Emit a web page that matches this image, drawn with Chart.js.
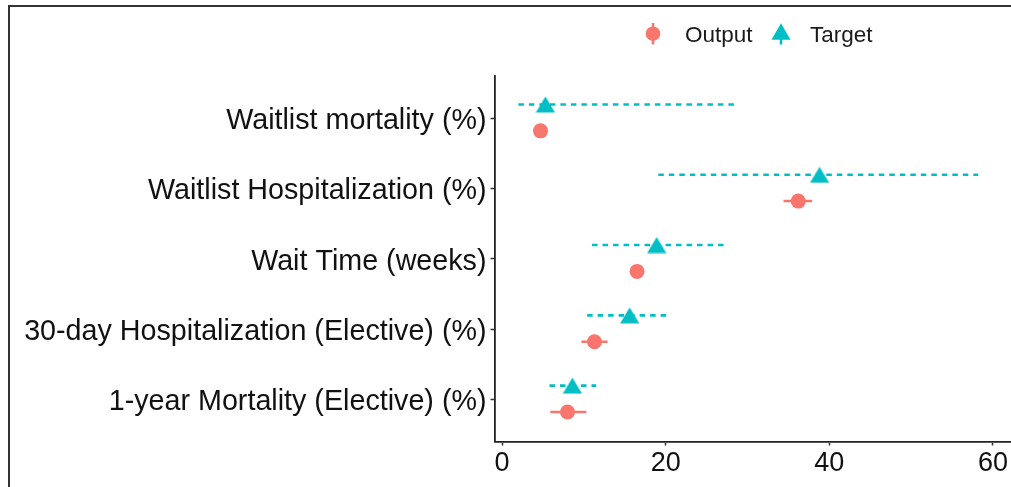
<!DOCTYPE html>
<html>
<head>
<meta charset="utf-8">
<script src="https://cdn.jsdelivr.net/npm/chart.js@4.4.1/dist/chart.umd.min.js"></script>
<style>
  html, body { margin: 0; padding: 0; background: #fff; overflow: hidden; }
  #wrap { position: relative; width: 1011px; height: 487px; overflow: hidden; background: #fff; }
  canvas { display: block; }
  .leg { position: absolute; font-family: "Liberation Sans", Arial, sans-serif; font-size: 22.5px;
         color: #1a1a1a; line-height: 1; white-space: nowrap; }
</style>
</head>
<body>
<div id="wrap">
  <canvas id="c" width="1011" height="487"></canvas>
  <svg style="position:absolute;left:0;top:0" width="1011" height="60">
    <line x1="653" y1="23" x2="653" y2="44.5" stroke="#F8766D" stroke-width="2.5"/>
    <circle cx="653" cy="33.7" r="7.3" fill="#F8766D"/>
    <line x1="781" y1="32" x2="781" y2="44.5" stroke="#00BFC4" stroke-width="2.5"/>
    <polygon points="781,23.3 771.5,39.8 790.5,39.8" fill="#00BFC4"/>
  </svg>
  <div class="leg" style="left:685px;top:24px">Output</div>
  <div class="leg" style="left:810px;top:24px">Target</div>
</div>
<script>
// ---- data ----
const categories = [
  "Waitlist mortality (%)",
  "Waitlist Hospitalization (%)",
  "Wait Time (weeks)",
  "30-day Hospitalization (Elective) (%)",
  "1-year Mortality (Elective) (%)"
];
const outputValues = [4.7, 36.2, 16.5, 11.3, 8.0];
const outputLow    = [4.3, 34.4, 16.1, 9.7, 5.9];
const outputHigh   = [5.1, 37.9, 16.9, 12.9, 10.3];
const targetValues = [5.3, 38.8, 18.9, 15.6, 8.6];
const targetLow    = [2.0, 19.1, 11.0, 10.4, 5.8];
const targetHigh   = [28.9, 58.2, 27.5, 20.4, 11.5];
const xTicks = [0, 20, 40, 60];

// ---- styling ----
const OUT_COLOR = "#F8766D";
const TGT_COLOR = "#00BFC4";
const OUT_DODGE = 0.18;
const TGT_DODGE = -0.195;
const FONT = '"Liberation Sans", Arial, sans-serif';

// triangle marker centred on its bounding box
const tri = document.createElement('canvas');
tri.width = 20; tri.height = 17;
(function () {
  const t = tri.getContext('2d');
  t.fillStyle = TGT_COLOR;
  t.beginPath();
  t.moveTo(10, 0.5); t.lineTo(19.6, 16.6); t.lineTo(0.4, 16.6); t.closePath();
  t.fill();
})();

const errorBars = {
  id: 'errorBars',
  beforeDatasetsDraw(chart) {
    const { ctx, chartArea, scales: { x, y } } = chart;
    ctx.save();
    ctx.beginPath();
    ctx.rect(chartArea.left, chartArea.top, chartArea.right - chartArea.left, chartArea.bottom - chartArea.top);
    ctx.clip();
    ctx.lineCap = 'butt';
    ctx.strokeStyle = OUT_COLOR; ctx.lineWidth = 2.5; ctx.setLineDash([]);
    categories.forEach((c, i) => {
      const py = y.getPixelForValue(i + OUT_DODGE);
      ctx.beginPath();
      ctx.moveTo(x.getPixelForValue(outputLow[i]), py);
      ctx.lineTo(x.getPixelForValue(outputHigh[i]), py);
      ctx.stroke();
    });
    ctx.strokeStyle = TGT_COLOR; ctx.lineWidth = 2.6; ctx.setLineDash([5.5, 5]);
    categories.forEach((c, i) => {
      const py = y.getPixelForValue(i + TGT_DODGE);
      ctx.beginPath();
      ctx.moveTo(x.getPixelForValue(targetLow[i]), py);
      ctx.lineTo(x.getPixelForValue(targetHigh[i]), py);
      ctx.stroke();
    });
    ctx.restore();
  }
};

const frame = {
  id: 'frame',
  afterDraw(chart) {
    const ctx = chart.ctx;
    ctx.save();
    ctx.strokeStyle = '#333';
    ctx.lineWidth = 2;
    ctx.setLineDash([]);
    ctx.beginPath();
    ctx.moveTo(9, 487); ctx.lineTo(9, 6); ctx.lineTo(1011, 6);
    ctx.stroke();
    ctx.restore();
  }
};

new Chart(document.getElementById('c'), {
  type: 'scatter',
  data: {
    datasets: [
      {
        label: 'Output',
        data: categories.map((c, i) => ({ x: outputValues[i], y: i + OUT_DODGE })),
        pointStyle: 'circle',
        pointRadius: 7.5,
        pointBackgroundColor: OUT_COLOR,
        pointBorderWidth: 0,
        borderColor: OUT_COLOR,
        backgroundColor: OUT_COLOR
      },
      {
        label: 'Target',
        data: categories.map((c, i) => ({ x: targetValues[i], y: i + TGT_DODGE })),
        pointStyle: tri,
        pointRadius: 10,
        pointBorderWidth: 0,
        borderColor: TGT_COLOR,
        backgroundColor: TGT_COLOR
      }
    ]
  },
  options: {
    responsive: false,
    animation: false,
    events: [],
    layout: { autoPadding: false, padding: { top: 76, right: 0, bottom: 0, left: 0 } },
    plugins: { legend: { display: false }, tooltip: { enabled: false } },
    scales: {
      x: {
        type: 'linear',
        min: -0.92,
        max: 62.2,
        afterBuildTicks: s => { s.ticks = xTicks.map(v => ({ value: v })); },
        afterFit: s => { s.height = 45.5; s.paddingLeft = 0; s.paddingRight = 0; },
        grid: { drawOnChartArea: false, drawTicks: true, tickLength: 4, color: '#333', tickWidth: 1.5 },
        border: { display: true, color: '#222', width: 1.8 },
        ticks: { font: { family: FONT, size: 27 }, color: '#111', padding: 2, maxRotation: 0, autoSkip: false }
      },
      y: {
        type: 'linear',
        reverse: true,
        min: -0.6,
        max: 4.6,
        afterBuildTicks: s => { s.ticks = categories.map((c, i) => ({ value: i })); },
        afterFit: s => { s.width = 494.5; s.paddingTop = 0; s.paddingBottom = 0; },
        grid: { drawOnChartArea: false, drawTicks: true, tickLength: 4, color: '#333', tickWidth: 1.5 },
        border: { display: true, color: '#222', width: 1.8 },
        ticks: {
          font: { family: FONT, size: 28.7 }, color: '#111', padding: 4, autoSkip: false, labelOffset: 3,
          callback: v => categories[v]
        }
      }
    }
  },
  plugins: [errorBars, frame]
});
</script>
</body>
</html>
